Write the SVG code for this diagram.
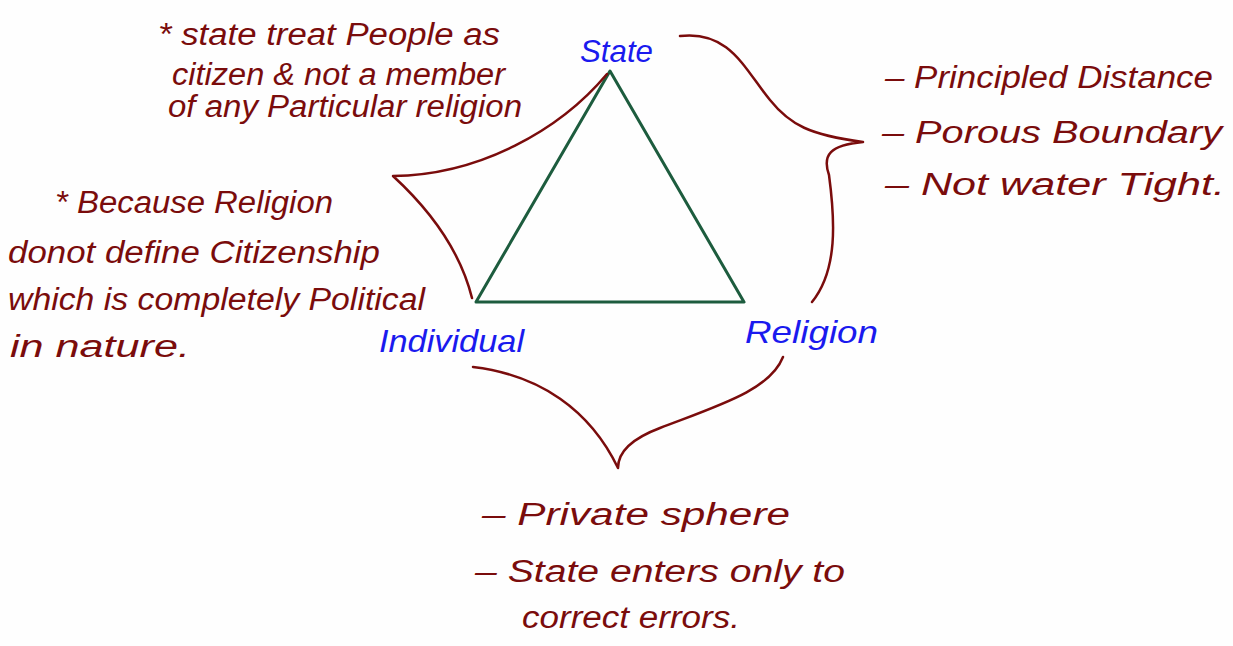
<svg xmlns="http://www.w3.org/2000/svg" width="1233" height="646" viewBox="0 0 1233 646">
<style>
.n{font-family:"Liberation Sans",Arial,sans-serif;font-style:italic;fill:#7a0c0c;font-size:31px}
.b{font-family:"Liberation Sans",Arial,sans-serif;font-style:italic;fill:#1a1aee;font-size:32px}
.br{fill:none;stroke:#7a0c0c;stroke-width:2.5;stroke-linecap:round;stroke-linejoin:round}
.tri{fill:none;stroke:#1d5c3e;stroke-width:3;stroke-linejoin:round}
</style>
<rect width="1233" height="646" fill="#fefefe"/>
<g id="triangle">
<path class="tri" d="M610 71 L744 302 L476 302 Z"/>
</g>
<g id="connectors">
<path class="br" d="M607 74 C560 130 480 175 393 176 C430 210 460 250 472 298"/>
<path class="br" d="M680 36 C730 30 745 70 770 100 C790 125 810 135 863 142 C830 145 822 155 829 175 C835 220 838 270 812 302"/>
<path class="br" d="M473 367 C540 375 590 410 618 468 C618 455 628 440 660 428 C720 405 770 390 783 357"/>
</g>
<g id="state"><text class="b" x="580" y="62" textLength="73" lengthAdjust="spacingAndGlyphs">State</text></g>
<g id="individual"><text class="b" x="379" y="352" textLength="145" lengthAdjust="spacingAndGlyphs">Individual</text></g>
<g id="religion"><text class="b" x="745" y="343" textLength="133" lengthAdjust="spacingAndGlyphs">Religion</text></g>
<g id="note-top">
<text class="n" x="158" y="45" textLength="342" lengthAdjust="spacingAndGlyphs">* state treat People as</text>
<text class="n" x="172" y="85" textLength="333" lengthAdjust="spacingAndGlyphs">citizen &amp; not a member</text>
<text class="n" x="168" y="117" textLength="354" lengthAdjust="spacingAndGlyphs">of any Particular religion</text>
</g>
<g id="note-left">
<text class="n" x="55" y="213" textLength="278" lengthAdjust="spacingAndGlyphs">* Because Religion</text>
<text class="n" x="8" y="263" textLength="372" lengthAdjust="spacingAndGlyphs">donot define Citizenship</text>
<text class="n" x="8" y="310" textLength="417" lengthAdjust="spacingAndGlyphs">which is completely Political</text>
<text class="n" x="10" y="357" textLength="180" lengthAdjust="spacingAndGlyphs">in nature.</text>
</g>
<g id="note-right">
<text class="n" x="885" y="88" textLength="328" lengthAdjust="spacingAndGlyphs">– Principled Distance</text>
<text class="n" x="882" y="143" textLength="340" lengthAdjust="spacingAndGlyphs">–  Porous Boundary</text>
<text class="n" x="885" y="195" textLength="340" lengthAdjust="spacingAndGlyphs">–  Not  water Tight.</text>
</g>
<g id="note-bottom">
<text class="n" x="482" y="525" textLength="308" lengthAdjust="spacingAndGlyphs">–  Private sphere</text>
<text class="n" x="475" y="582" textLength="370" lengthAdjust="spacingAndGlyphs">–  State enters only to</text>
<text class="n" x="522" y="628" textLength="218" lengthAdjust="spacingAndGlyphs">correct errors.</text>
</g>
</svg>
